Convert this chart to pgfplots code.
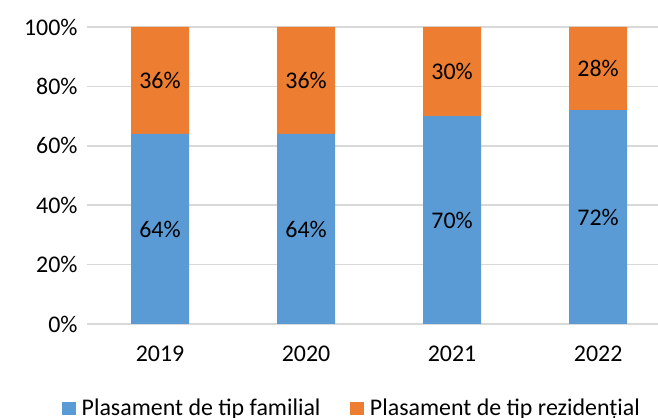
\documentclass[border=0pt]{standalone}
\usepackage{pgfplots}
\pgfplotsset{compat=1.18}
\usepackage{fontspec}
\setmainfont{Carlito}
\definecolor{cblue}{HTML}{5B9BD5}
\definecolor{corange}{HTML}{ED7D31}
\definecolor{cgrid}{HTML}{D9D9D9}
\newcommand{\cf}{\fontsize{24}{28}\selectfont}
\begin{document}
\begin{tikzpicture}
\useasboundingbox (0,0) rectangle (658bp,418bp);
\begin{axis}[
  at={(87bp,94bp)}, anchor=south west,
  scale only axis, width=571bp, height=297bp,
  xmin=-0.5, xmax=3.41, ymin=0, ymax=100,
  ybar stacked, bar width=58bp,
  axis line style={draw=none},
  xtick={0,1,2,3}, xticklabels={2019,2020,2021,2022},
  ytick={0,20,40,60,80,100},
  yticklabels={0\%,20\%,40\%,60\%,80\%,100\%},
  major tick length=0pt,
  ymajorgrids, grid style={cgrid, line width=1.5bp},
  tick label style={font=\cf, text=black},
  xticklabel style={yshift=-18bp},
  yticklabel style={xshift=-6bp},
  legend columns=2,
  legend style={at={(-0.0438,-0.283)}, anchor=west, draw=none, fill=none, inner sep=0pt,
    font=\cf, /tikz/every even column/.append style={column sep=30bp},
    nodes={inner sep=0pt, anchor=west}},
  legend image code/.code={\fill[#1] (0bp,-6.5bp) rectangle (13.5bp,6.5bp); \path (19.5bp,0bp);},
]
\addplot[fill=cblue, draw=none] coordinates {(0,64) (1,64) (2,70) (3,72)};
\addlegendentry{Plasament de tip familial}
\addplot[fill=corange, draw=none] coordinates {(0,36) (1,36) (2,30) (3,28)};
\addlegendentry{Plasament de tip rezidențial}
\end{axis}
\begin{axis}[
  at={(87bp,94bp)}, anchor=south west,
  scale only axis, width=571bp, height=297bp,
  xmin=-0.5, xmax=3.41, ymin=0, ymax=100,
  hide axis,
]
\addplot[draw=none, mark=none, nodes near coords, point meta=explicit symbolic,
  every node near coord/.style={anchor=center, font=\cf, text=black}]
  coordinates {(0,32) [64\%] (1,32) [64\%] (2,35) [70\%] (3,36) [72\%]
               (0,82) [36\%] (1,82) [36\%] (2,85) [30\%] (3,86) [28\%]};
\end{axis}
\end{tikzpicture}
\end{document}
